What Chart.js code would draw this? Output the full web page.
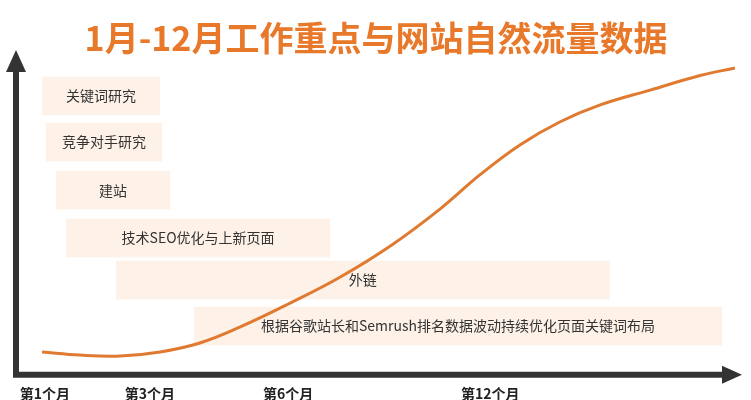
<!DOCTYPE html>
<html><head><meta charset="utf-8">
<script src="https://cdn.jsdelivr.net/npm/chart.js@4"></script>
<style>html,body{margin:0;padding:0;background:#fff}#w{width:751px;height:400px}</style>
</head><body><div id="w"><canvas id="c"></canvas></div>
<script>
const titleText = '1月-12月工作重点与网站自然流量数据';
const tickLabels = ['第1个月','第3个月','第6个月','第12个月'];
const tickPositions = [4, 18.5, 37.6, 65.5];
const taskNames = ['关键词研究','竞争对手研究','建站','技术SEO优化与上新页面','外链','根据谷歌站长和Semrush排名数据波动持续优化页面关键词布局'];
const taskStart = [3.6, 4.1, 5.5, 6.9, 13.8, 24.6];
const taskEnd = [19.9, 20.2, 21.3, 43.4, 82.0, 97.5];
const taskRow = [88.4, 73.5, 58, 42.6, 29, 14.2];
const trafficX = [3.6,8.8,14.4,19.9,25.4,30.9,37.8,44.8,51.7,58.6,64.1,69.6,75.1,80.7,87.6,94.5,99.3];
const trafficY = [5.8,4.8,4.5,5.8,8.7,13.8,21.5,30,40,52,63,72.6,80,85.5,90.3,95,97.4];
const FONT = '"Noto Sans CJK SC","Noto Sans",sans-serif';

const deco = {
  id:'deco',
  beforeDatasetsDraw(ch){
    const {ctx, scales:{x,y}} = ch;
    ctx.save();
    ctx.font = '14px ' + FONT;
    taskNames.forEach((n,i)=>{
      const x0 = x.getPixelForValue(taskStart[i]), x1 = x.getPixelForValue(taskEnd[i]);
      const yc = y.getPixelForValue(taskRow[i]);
      const h = Math.abs(y.getPixelForValue(0)-y.getPixelForValue(12.5));
      ctx.fillStyle = '#fdf1e8';
      ctx.fillRect(x0, yc-h/2, x1-x0, h);
      ctx.fillStyle = '#333';
      ctx.textAlign='center'; ctx.textBaseline='middle';
      ctx.fillText(n, (x0+x1)/2, yc);
    });
    const ox = x.getPixelForValue(0), oy = y.getPixelForValue(-1.5);
    const top = y.getPixelForValue(100) - 4, right = x.getPixelForValue(100);
    ctx.strokeStyle = '#333'; ctx.fillStyle='#333'; ctx.lineWidth = 6;
    ctx.beginPath(); ctx.moveTo(ox, oy); ctx.lineTo(ox, top+12); ctx.stroke();
    ctx.beginPath(); ctx.moveTo(ox-3, oy); ctx.lineTo(right-12, oy); ctx.stroke();
    ctx.beginPath(); ctx.moveTo(ox, top-6); ctx.lineTo(ox-10, top+16); ctx.lineTo(ox+10, top+16); ctx.closePath(); ctx.fill();
    ctx.beginPath(); ctx.moveTo(right+2, oy); ctx.lineTo(right-18, oy-9); ctx.lineTo(right-18, oy+9); ctx.closePath(); ctx.fill();
    ctx.font = 'bold 14px ' + FONT; ctx.fillStyle='#222'; ctx.textBaseline='middle';
    tickLabels.forEach((t,i)=>{ ctx.fillText(t, x.getPixelForValue(tickPositions[i]), oy+19); });
    ctx.font = 'bold 34px ' + FONT; ctx.fillStyle = '#e8782a';
    ctx.fillText(titleText, 376, 38);
    ctx.restore();
  }
};

new Chart(document.getElementById('c'), {
  type:'line',
  data:{ datasets:[{ data: trafficX.map((v,i)=>({x:v,y:trafficY[i]})), borderColor:'#e07a30', borderWidth:3, pointRadius:0, tension:0.4, fill:false }]},
  options:{
    responsive:true, maintainAspectRatio:false, animation:false,
    layout:{padding:{left:16,right:11,top:60,bottom:30}},
    plugins:{legend:{display:false},tooltip:{enabled:false}},
    scales:{
      x:{type:'linear',min:0,max:100,display:false},
      y:{min:0,max:100,display:false}
    }
  },
  plugins:[deco]
});
</script></body></html>
